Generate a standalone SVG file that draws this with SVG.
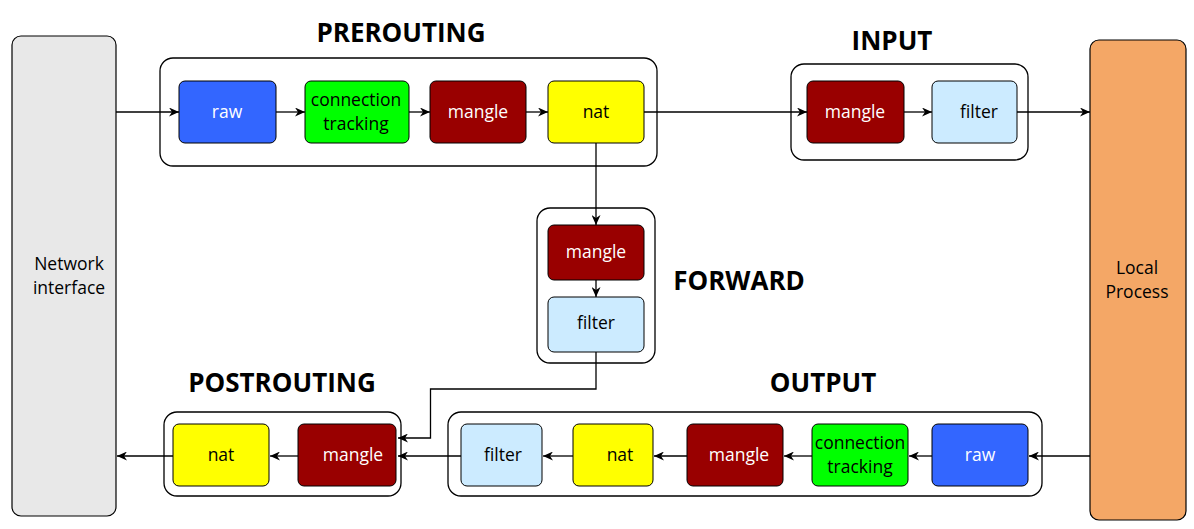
<svg xmlns="http://www.w3.org/2000/svg" width="1194" height="529" viewBox="0 0 1194 529">
<defs>
<marker id="arr" markerUnits="userSpaceOnUse" markerWidth="10" markerHeight="9" refX="10" refY="4.5" orient="auto">
<path d="M0,0 L10,4.5 L0,9 L3,4.5 z" fill="#000"/>
</marker>
<style>
.big{fill:#E8E8E8;stroke:#000;stroke-width:1.2}
.lp{fill:#F4A766;stroke:#000;stroke-width:1.2}
.cont{fill:#fff;stroke:#000;stroke-width:1.3}
.box{stroke:#000;stroke-width:1}
.raw{fill:#3366FF}
.ct{fill:#00FF00}
.mg{fill:#990000}
.nat{fill:#FFFF00}
.fl{fill:#CCEBFF}
text{font-family:"Open Sans","Liberation Sans",sans-serif;text-anchor:middle}
.t{font-size:17.5px;fill:#000}
.w{font-size:17.5px;fill:#fff}
.s{font-size:17.5px;fill:#000}
.title{font-size:26px;font-weight:bold;fill:#000}
.c{fill:none;stroke:#000;stroke-width:1.3;marker-end:url(#arr)}
</style>
</defs>

<g id="network-interface">
<rect class="big" x="12" y="36" width="104" height="480" rx="9"/>
<text class="s" x="69" y="270">Network</text>
<text class="s" x="69" y="294">interface</text>
</g>

<g id="local-process">
<rect class="lp" x="1090" y="40" width="96" height="480" rx="9"/>
<text class="s" x="1137" y="274">Local</text>
<text class="s" x="1137" y="298">Process</text>
</g>

<g id="prerouting">
<rect class="cont" x="160" y="58" width="497" height="108" rx="13"/>
<text class="title" x="401" y="42">PREROUTING</text>
</g>
<g id="pre-raw">
<rect class="box raw" x="179" y="81" width="97" height="62" rx="6"/>
<text class="w" x="227" y="118">raw</text>
</g>
<g id="pre-ct">
<rect class="box ct" x="305" y="81" width="104" height="62" rx="6"/>
<text class="t" x="356" y="106">connection</text>
<text class="t" x="356" y="130">tracking</text>
</g>
<g id="pre-mangle">
<rect class="box mg" x="430" y="81" width="96" height="62" rx="6"/>
<text class="w" x="478" y="118">mangle</text>
</g>
<g id="pre-nat">
<rect class="box nat" x="548" y="81" width="96" height="62" rx="6"/>
<text class="t" x="596" y="118">nat</text>
</g>

<g id="input">
<rect class="cont" x="791" y="64" width="237" height="96" rx="13"/>
<text class="title" x="892" y="50">INPUT</text>
</g>
<g id="in-mangle">
<rect class="box mg" x="807" y="81" width="97" height="62" rx="6"/>
<text class="w" x="855" y="118">mangle</text>
</g>
<g id="in-filter">
<rect class="box fl" x="932" y="81" width="85" height="62" rx="6"/>
<text class="t" x="979" y="118">filter</text>
</g>

<g id="forward">
<rect class="cont" x="537" y="208" width="118" height="155" rx="13"/>
<text class="title" x="739" y="290">FORWARD</text>
</g>
<g id="fwd-mangle">
<rect class="box mg" x="548" y="225" width="96" height="55" rx="6"/>
<text class="w" x="596" y="258">mangle</text>
</g>
<g id="fwd-filter">
<rect class="box fl" x="548" y="297" width="96" height="55" rx="6"/>
<text class="t" x="596" y="329">filter</text>
</g>

<g id="postrouting">
<rect class="cont" x="164" y="412" width="237" height="84" rx="13"/>
<text class="title" x="282" y="392">POSTROUTING</text>
</g>
<g id="post-nat">
<rect class="box nat" x="173" y="424" width="96" height="62" rx="6"/>
<text class="t" x="221" y="461">nat</text>
</g>
<g id="post-mangle">
<rect class="box mg" x="298" y="424" width="98" height="62" rx="6"/>
<text class="w" x="353" y="461">mangle</text>
</g>

<g id="output">
<rect class="cont" x="448" y="412" width="594" height="84" rx="13"/>
<text class="title" x="823" y="392">OUTPUT</text>
</g>
<g id="out-filter">
<rect class="box fl" x="461" y="424" width="81" height="62" rx="6"/>
<text class="t" x="503" y="461">filter</text>
</g>
<g id="out-nat">
<rect class="box nat" x="573" y="424" width="80" height="62" rx="6"/>
<text class="t" x="620" y="461">nat</text>
</g>
<g id="out-mangle">
<rect class="box mg" x="687" y="424" width="96" height="62" rx="6"/>
<text class="w" x="739" y="461">mangle</text>
</g>
<g id="out-ct">
<rect class="box ct" x="812" y="424" width="96" height="62" rx="6"/>
<text class="t" x="860" y="449">connection</text>
<text class="t" x="860" y="473">tracking</text>
</g>
<g id="out-raw">
<rect class="box raw" x="932" y="424" width="96" height="62" rx="6"/>
<text class="w" x="980" y="461">raw</text>
</g>

<g id="connectors">
<path class="c" d="M116,112 H179"/>
<path class="c" d="M276,112 H305"/>
<path class="c" d="M409,112 H430"/>
<path class="c" d="M526,112 H548"/>
<path class="c" d="M644,112 H807"/>
<path class="c" d="M904,112 H932"/>
<path class="c" d="M1017,112 H1090"/>
<path class="c" d="M596,143 V225"/>
<path class="c" d="M596,280 V297"/>
<path class="c" d="M596,352 V389 H430.5 V438 H398"/>
<path class="c" d="M1090,456 H1029"/>
<path class="c" d="M932,456 H909"/>
<path class="c" d="M812,456 H784"/>
<path class="c" d="M687,456 H654"/>
<path class="c" d="M573,456 H543"/>
<path class="c" d="M461,456 H398"/>
<path class="c" d="M298,456 H270"/>
<path class="c" d="M173,456 H117"/>
</g>
</svg>
